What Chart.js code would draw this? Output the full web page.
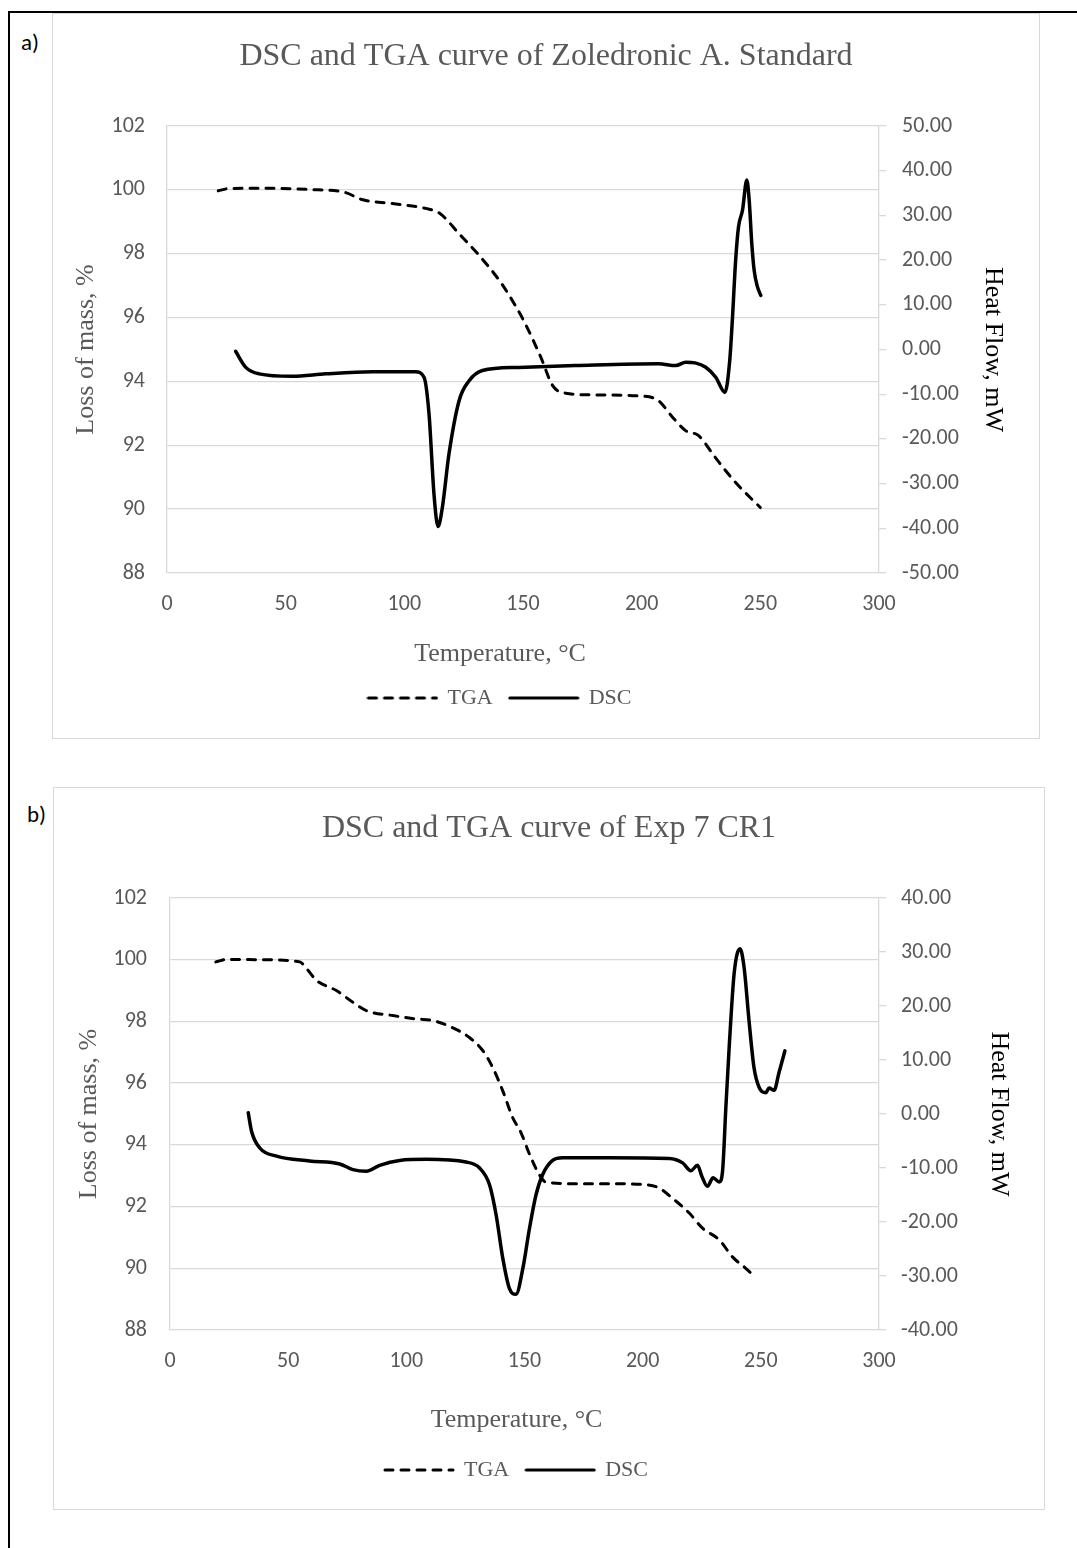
<!DOCTYPE html>
<html>
<head>
<meta charset="utf-8">
<script src="https://cdn.jsdelivr.net/npm/chart.js@4.4.1/dist/chart.umd.min.js"></script>
<style>
  html, body { margin: 0; padding: 0; background: #fff; }
  body { width: 1077px; height: 1548px; position: relative; overflow: hidden; }
  .frame { position: absolute; left: 8px; top: 11px; width: 1200px; height: 1700px;
           border-left: 2.5px solid #000; border-top: 2.5px solid #000; }
  .box { position: absolute; border: 1.5px solid #d9d9d9; box-sizing: border-box; }
  canvas { position: absolute; }
  .tag { position: absolute; font-family: Carlito, Calibri, Lato, sans-serif; font-size: 23px;
         line-height: 23px; color: #000; }
</style>
</head>
<body>
<div class="frame"></div>

<div class="box" style="left:52px;top:13px;width:988px;height:726px"></div>
<canvas id="chartA" width="988" height="726" style="left:52px;top:13px"></canvas>
<div class="tag" style="left:21px;top:31px">a)</div>

<div class="box" style="left:53px;top:787px;width:992px;height:723px"></div>
<canvas id="chartB" width="992" height="723" style="left:53px;top:787px"></canvas>
<div class="tag" style="left:27px;top:803px">b)</div>

<script>
// ---- a) Zoledronic A. Standard ----
const tgaTempA = [21.6, 26, 39, 60, 75, 82, 95, 109, 115, 123, 131.5, 141, 147.5, 151, 157.5, 162.5, 168, 179, 200, 207, 213, 218.5, 224, 231, 239.5, 250];
const tgaMassA = [99.97, 100.04, 100.05, 100.01, 99.92, 99.7, 99.57, 99.42, 99.26, 98.63, 97.95, 97.06, 96.28, 95.8, 94.76, 93.87, 93.63, 93.58, 93.54, 93.4, 92.88, 92.46, 92.3, 91.62, 90.84, 90.05];
const dscTempA = [28.9, 33.2, 38.8, 52.8, 66.9, 86.5, 104.8, 108.3, 110.4, 112.5, 114.2, 116, 118.8, 123.1, 127.3, 132.9, 148, 172, 207, 214.4, 218.6, 222.5, 227, 231.2, 235.1, 237.1, 238.2, 239.6, 240.8, 242.5, 244.3, 245.3, 246.4, 247.4, 248.8, 250.2];
const dscFlowA = [-0.4, -4.0, -5.45, -6.0, -5.45, -5.0, -5.0, -6.2, -14.4, -32.4, -39.6, -35.4, -23.4, -11.4, -7.0, -4.7, -4.0, -3.6, -3.2, -3.6, -2.85, -3.0, -3.97, -6.2, -9.6, -2.5, 6.5, 20, 27.4, 31.2, 37.9, 33.4, 23.7, 17.7, 14.0, 12.1];

// ---- b) Exp 7 CR1 ----
const tgaTempB = [19.4, 24, 38, 54.9, 57.8, 62, 70.4, 77.4, 83.1, 94.3, 104.2, 111.2, 119.7, 126.7, 132.4, 136.6, 140.8, 145, 148.5, 152.1, 156.3, 159.1, 171.8, 185.9, 201.4, 207, 212.6, 219.7, 225.3, 232.4, 238, 243.6, 247.6];
const tgaMassB = [99.93, 100.01, 100.0, 99.93, 99.71, 99.33, 99.0, 98.62, 98.35, 98.19, 98.08, 98.03, 97.79, 97.48, 97.05, 96.5, 95.75, 94.88, 94.4, 93.7, 93.03, 92.79, 92.74, 92.74, 92.71, 92.6, 92.27, 91.79, 91.3, 90.92, 90.37, 90.0, 89.72];
const dscTempB = [33.1, 34.5, 38, 45.1, 59.1, 71.8, 77.4, 83.1, 88.7, 97.2, 108.4, 125.3, 131, 135.2, 138, 140.8, 143.6, 146.4, 149.3, 152.1, 154.9, 157.7, 161.9, 166.2, 185.9, 211.2, 216.9, 220.4, 223.2, 225, 227.4, 229.8, 232.4, 233.8, 235.2, 236.6, 238.7, 241.2, 242.9, 245, 247.1, 249.3, 252.1, 253.5, 255.6, 257.7, 260.2];
const dscFlowB = [0.25, -3.2, -6.3, -7.8, -8.7, -9.25, -10.3, -10.6, -9.5, -8.6, -8.4, -8.9, -10.0, -13.1, -18.7, -26.7, -32.3, -33.4, -28.6, -21.2, -14.9, -11.2, -8.6, -8.1, -8.1, -8.25, -9.05, -10.5, -9.5, -11.5, -13.4, -11.8, -12.6, -10.6, 1.2, 12.3, 26.0, 30.6, 27.2, 17.3, 8.6, 4.9, 3.95, 4.8, 4.4, 7.7, 11.7];

// axis ranges: [min, max, step]
const tempAxis = [0, 300, 50];
const massAxis = [88, 102, 2];
const flowAxisA = [-50, 50, 10];
const flowAxisB = [-40, 40, 10];

const SERIF = "'Liberation Serif', 'Times New Roman', serif";
const SANS = "Carlito, Calibri, Lato, sans-serif";
const GREY = '#595959';
const GRID = '#d9d9d9';
const TGA_DASH = [8, 8];

function pairs(xs, ys) {
    return xs.map((x, i) => ({ x: x, y: ys[i] }));
}

// small line sample used as the legend symbol
function lineIcon(dash) {
    const c = document.createElement('canvas');
    c.width = 72;
    c.height = 6;
    const g = c.getContext('2d');
    g.strokeStyle = '#000';
    g.lineWidth = 3;
    g.lineCap = 'round';
    g.setLineDash(dash);
    g.beginPath();
    g.moveTo(2, 3);
    g.lineTo(70, 3);
    g.stroke();
    return c;
}

// the x title and the legend sit a bit left of the plot centre in the original
const shiftBottom = {
    id: 'shiftBottom',
    afterLayout(chart, args, opts) {
        const dx = opts.dx || 0;
        chart.legend.left += dx;
        chart.legend.right += dx;
        chart.scales.x.left += dx;
        chart.scales.x.right += dx;
    },
};

function drawChart(id, o) {
    return new Chart(document.getElementById(id), {
        type: 'line',
        plugins: [shiftBottom],
        data: {
            datasets: [
                {
                    label: 'TGA',
                    data: pairs(o.tgaT, o.tgaM),
                    yAxisID: 'y',
                    borderColor: '#000',
                    borderWidth: 3,
                    borderDash: TGA_DASH,
                    borderCapStyle: 'round',
                    cubicInterpolationMode: 'monotone',
                    pointRadius: 0,
                    pointStyle: lineIcon(TGA_DASH),
                    fill: false,
                },
                {
                    label: 'DSC',
                    data: pairs(o.dscT, o.dscH),
                    yAxisID: 'y2',
                    borderColor: '#000',
                    borderWidth: 3.5,
                    borderCapStyle: 'round',
                    cubicInterpolationMode: 'monotone',
                    pointRadius: 0,
                    pointStyle: lineIcon([]),
                    fill: false,
                },
            ],
        },
        options: {
            responsive: false,
            animation: false,
            events: [],
            layout: { autoPadding: false, padding: { left: 0, right: 0, top: 0, bottom: o.padBottom } },
            plugins: {
                shiftBottom: { dx: o.bottomShift },
                title: {
                    display: true,
                    text: o.title,
                    color: GREY,
                    font: { family: SERIF, size: 32, weight: 'normal' },
                    padding: { top: o.titleTop, bottom: o.titleBottom },
                },
                legend: {
                    position: 'bottom',
                    fullSize: false,
                    labels: {
                        usePointStyle: true,
                        pointStyleWidth: 68,
                        boxHeight: 22,
                        color: GREY,
                        font: { family: SERIF, size: 22 },
                        padding: 17,
                    },
                },
                tooltip: { enabled: false },
            },
            scales: {
                x: {
                    type: 'linear',
                    min: tempAxis[0],
                    max: tempAxis[1],
                    grid: { display: false },
                    border: { display: false },
                    ticks: { stepSize: tempAxis[2], color: GREY, font: { family: SANS, size: 22 }, padding: 10 },
                    title: {
                        display: true,
                        text: 'Temperature, °C',
                        color: GREY,
                        font: { family: SERIF, size: 26 },
                        padding: { top: 0, bottom: o.xTitleBottom },
                    },
                    afterFit: s => { s.height = o.xHeight; },
                },
                y: {
                    position: 'left',
                    min: massAxis[0],
                    max: massAxis[1],
                    grid: { color: GRID, lineWidth: 1.3, drawTicks: false },
                    border: { display: true, color: GRID, width: 1.3 },
                    ticks: { stepSize: massAxis[2], color: GREY, font: { family: SANS, size: 22 }, padding: o.yTickPad },
                    title: {
                        display: true,
                        text: 'Loss of mass, %',
                        color: GREY,
                        font: { family: SERIF, size: 26 },
                        padding: { top: o.yTitlePad, bottom: o.yTitlePad },
                    },
                    afterFit: s => { s.width = o.yWidth; },
                },
                y2: {
                    position: 'right',
                    min: o.flowAxis[0],
                    max: o.flowAxis[1],
                    grid: { drawOnChartArea: false, color: GRID, lineWidth: 1.3, tickLength: 7 },
                    border: { display: true, color: GRID, width: 1.3 },
                    ticks: {
                        stepSize: o.flowAxis[2],
                        color: GREY,
                        font: { family: SANS, size: 22 },
                        padding: o.y2TickPad,
                        callback: v => v.toFixed(2),
                    },
                    title: {
                        display: true,
                        text: 'Heat Flow, mW',
                        color: '#000',
                        font: { family: SERIF, size: 26 },
                        padding: { top: o.y2TitlePad, bottom: o.y2TitlePad },
                    },
                    afterFit: s => { s.width = o.y2Width; },
                },
            },
        },
    });
}

drawChart('chartA', {
    title: 'DSC and TGA curve of Zoledronic A. Standard',
    tgaT: tgaTempA, tgaM: tgaMassA, dscT: dscTempA, dscH: dscFlowA,
    flowAxis: flowAxisA,
    titleTop: 24.8, titleBottom: 49.8,
    yWidth: 115, yTickPad: 22, yTitlePad: 19,
    y2Width: 161, y2TickPad: 16, y2TitlePad: 32,
    xHeight: 97, xTitleBottom: 0,
    padBottom: 20,
    bottomShift: -23,
});

drawChart('chartB', {
    title: 'DSC and TGA curve of Exp 7 CR1',
    tgaT: tgaTempB, tgaM: tgaMassB, dscT: dscTempB, dscH: dscFlowB,
    flowAxis: flowAxisB,
    titleTop: 22.8, titleBottom: 49.8,
    yWidth: 117, yTickPad: 23, yTitlePad: 21,
    y2Width: 166, y2TickPad: 15, y2TitlePad: 31,
    xHeight: 112, xTitleBottom: 6.4,
    padBottom: 19,
    bottomShift: -8,
});
</script>
</body>
</html>
